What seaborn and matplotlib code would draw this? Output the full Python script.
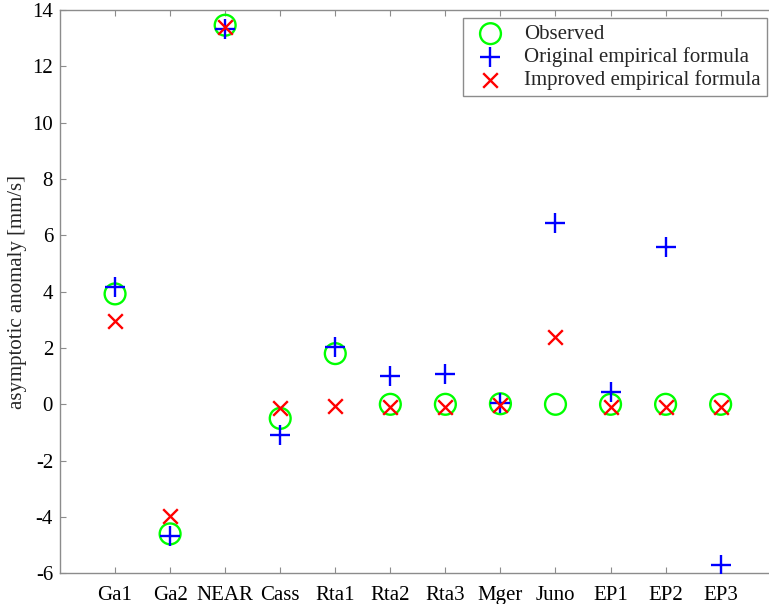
import numpy as np
import pandas as pd
import matplotlib
matplotlib.use("Agg")
import matplotlib.pyplot as plt
import seaborn as sns

categories = ["Ga1", "Ga2", "NEAR", "Cass", "Rta1", "Rta2", "Rta3", "Mger", "Juno", "EP1", "EP2", "EP3"]
observed = [3.92, -4.6, 13.46, -0.5, 1.8, 0.0, 0.0, 0.02, 0.0, 0.0, 0.0, 0.0]
original = [4.15, -4.66, 13.32, -1.09, 2.04, 1.0, 1.08, 0.05, 6.42, 0.43, 5.58, -5.7]
improved = [2.96, -3.97, 13.4, -0.14, -0.06, -0.08, -0.08, -0.02, 2.4, -0.08, -0.08, -0.08]
yticks = list(range(-6, 15, 2))

sns.set_style("white")
plt.rcParams["font.family"] = ["Liberation Serif", "DejaVu Serif"]

FS = 15

pos = np.arange(1, len(categories) + 1)
df = pd.DataFrame({"pos": pos, "Observed": observed,
                   "Original empirical formula": original,
                   "Improved empirical formula": improved})

fig = plt.figure(figsize=(7.69, 6.04), dpi=100)
ax = fig.add_axes([60 / 769, 1 - 573.3 / 604, (775.7 - 60) / 769, (573.3 - 10) / 604])

sns.scatterplot(data=df, x="pos", y="Observed", ax=ax, marker="o", s=15 ** 2,
                facecolors="none", edgecolor=(0, 1, 0), linewidth=1.7,
                label="Observed", zorder=3)
sns.scatterplot(data=df, x="pos", y="Original empirical formula", ax=ax, marker="+",
                s=15 ** 2, color=(0, 0, 1), linewidth=1.7,
                label="Original empirical formula", zorder=4)
sns.scatterplot(data=df, x="pos", y="Improved empirical formula", ax=ax, marker="x",
                s=10.5 ** 2, color=(1, 0, 0), linewidth=1.7,
                label="Improved empirical formula", zorder=5)

ax.set_xlim(0, 13)
ax.set_ylim(-6, 14)
ax.set_xticks(pos)
ax.set_xticklabels(categories)
ax.set_yticks(yticks)
ax.set_yticklabels([str(t) for t in yticks])
ax.set_xlabel("")
ax.set_ylabel("asymptotic anomaly [mm/s]", fontsize=FS, labelpad=4)

for sp in ax.spines.values():
    sp.set_color("#8c8c8c")
    sp.set_linewidth(1.0)
ax.tick_params(axis="both", direction="in", length=4.5, width=0.8, color="#8c8c8c",
               labelsize=FS, labelcolor="black")
ax.tick_params(axis="x", top=True, bottom=True, pad=9)
ax.tick_params(axis="y", left=True, right=True, pad=5)

leg = ax.legend(loc="upper right", bbox_to_anchor=(766.7 / 769, 1 - 18.3 / 604),
                bbox_transform=fig.transFigure, borderaxespad=0, fontsize=FS,
                frameon=True, fancybox=False, framealpha=1, edgecolor="#8c8c8c",
                handlelength=2.0, handletextpad=0.6, borderpad=0.3, labelspacing=0.15)
leg.get_frame().set_linewidth(1.0)

fig.savefig("out.png", dpi=100)
